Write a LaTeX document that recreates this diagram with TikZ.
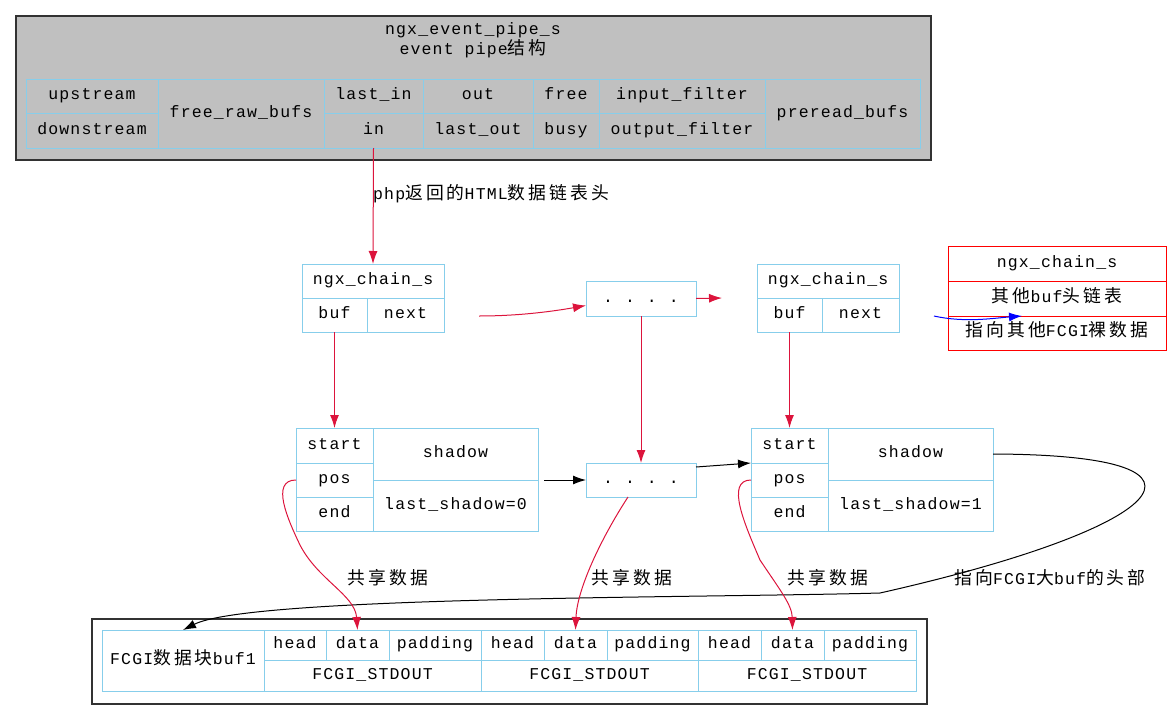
\documentclass[tikz,border=0pt]{standalone}
\usepackage{fontspec}
\setmainfont[LetterSpace=7]{Liberation Mono}
\newfontfamily\cjk[Scale=1.08,LetterSpace=17]{Noto Sans CJK SC}
\usetikzlibrary{arrows.meta}
\definecolor{crim}{RGB}{220,20,60}
\definecolor{sky}{RGB}{135,206,235}
\definecolor{pipegray}{RGB}{192,192,192}
\definecolor{frame}{RGB}{50,50,50}
\newcommand\cell[7]{%
  \node[#6, minimum width={#4pt-#2pt}, minimum height={#5pt-#3pt}, anchor=north west] (#1) at (#2,#3) {#7};}
\tikzset{
  txt/.style={inner sep=0pt, font=\fontsize{16.5}{19}\selectfont},
  cellbox/.style={draw=sky, line width=1pt, inner sep=0pt, outer sep=0pt, txt, text height=11pt, text depth=3.5pt},
  redcell/.style={draw=red, line width=1pt, inner sep=0pt, outer sep=0pt, txt, text height=11pt, text depth=3.5pt},
  frbox/.style={draw=frame, line width=1.3pt, inner sep=0pt, outer sep=0pt},
  tip/.style={-{Latex[length=13pt,width=9pt]}},
  redarr/.style={tip, draw=crim, line width=1pt},
  blkarr/.style={tip, draw=black, line width=1pt},
  bluearr/.style={tip, draw=blue, line width=1pt},
}
\begin{document}
\begin{tikzpicture}[x=1pt,y=-1pt]
\useasboundingbox (0,0) rectangle (1172,720);
% top pipe structure
\cell{pipe}{16}{16}{931}{160}{frbox, fill=pipegray}{}
\node[txt] (t1) at (473,30) {ngx\_event\_pipe\_s};
\node[txt] (t2) at (473,49) {event pipe{\cjk 结构}};
\cell{up}{26}{79}{158}{113}{cellbox}{upstream}
\cell{down}{26}{113}{158}{148}{cellbox}{downstream}
\cell{frb}{158}{79}{324}{148}{cellbox}{free\_raw\_bufs}
\cell{lastin}{324}{79}{423}{113}{cellbox}{last\_in}
\cell{in}{324}{113}{423}{148}{cellbox}{in}
\cell{out}{423}{79}{533}{113}{cellbox}{out}
\cell{lastout}{423}{113}{533}{148}{cellbox}{last\_out}
\cell{free}{533}{79}{599}{113}{cellbox}{free}
\cell{busy}{533}{113}{599}{148}{cellbox}{busy}
\cell{inf}{599}{79}{765}{113}{cellbox}{input\_filter}
\cell{outf}{599}{113}{765}{148}{cellbox}{output\_filter}
\cell{pre}{765}{79}{920}{148}{cellbox}{preread\_bufs}
% chain 1
\cell{c1h}{302}{264}{444}{298}{cellbox}{ngx\_chain\_s}
\cell{c1buf}{302}{298}{367}{332}{cellbox}{buf}
\cell{c1next}{367}{298}{444}{332}{cellbox}{next}
% dots
\cell{dots1}{586}{281}{696}{316}{cellbox}{.\hspace{12pt}.\hspace{12pt}.\hspace{12pt}.}
\cell{dots2}{586}{463}{696}{497}{cellbox}{.\hspace{12pt}.\hspace{12pt}.\hspace{12pt}.}
% chain 2
\cell{c2h}{757}{264}{899}{298}{cellbox}{ngx\_chain\_s}
\cell{c2buf}{757}{298}{822}{332}{cellbox}{buf}
\cell{c2next}{822}{298}{899}{332}{cellbox}{next}
% red chain
\cell{r1}{948}{246}{1166}{281}{redcell}{ngx\_chain\_s}
\cell{r2}{948}{281}{1166}{316}{redcell}{{\cjk 其他}buf{\cjk 头链表}}
\cell{r3}{948}{316}{1166}{350}{redcell}{{\cjk 指向其他}FCGI{\cjk 裸数据}}
% buf 1
\cell{b1start}{296}{428}{373}{463}{cellbox}{start}
\cell{b1pos}{296}{463}{373}{497}{cellbox}{pos}
\cell{b1end}{296}{497}{373}{531}{cellbox}{end}
\cell{b1sh}{373}{428}{538}{480}{cellbox}{shadow}
\cell{b1ls}{373}{480}{538}{531}{cellbox}{last\_shadow=0}
% buf 2
\cell{b2start}{751}{428}{828}{463}{cellbox}{start}
\cell{b2pos}{751}{463}{828}{497}{cellbox}{pos}
\cell{b2end}{751}{497}{828}{531}{cellbox}{end}
\cell{b2sh}{828}{428}{993}{480}{cellbox}{shadow}
\cell{b2ls}{828}{480}{993}{531}{cellbox}{last\_shadow=1}
% bottom FCGI block
\cell{fbox}{92}{619}{927}{704}{frbox, fill=white}{}
\cell{fcgi}{102}{630}{264}{691}{cellbox}{FCGI{\cjk 数据块}buf1}
\cell{h1}{264}{630}{326}{660}{cellbox}{head}
\cell{d1}{326}{630}{389}{660}{cellbox}{data}
\cell{p1}{389}{630}{481}{660}{cellbox}{padding}
\cell{s1}{264}{660}{481}{691}{cellbox}{FCGI\_STDOUT}
\cell{h2}{481}{630}{544}{660}{cellbox}{head}
\cell{d2}{544}{630}{607}{660}{cellbox}{data}
\cell{p2}{607}{630}{698}{660}{cellbox}{padding}
\cell{s2}{481}{660}{698}{691}{cellbox}{FCGI\_STDOUT}
\cell{h3}{698}{630}{761}{660}{cellbox}{head}
\cell{d3}{761}{630}{824}{660}{cellbox}{data}
\cell{p3}{824}{630}{916}{660}{cellbox}{padding}
\cell{s3}{698}{660}{916}{691}{cellbox}{FCGI\_STDOUT}
% labels
\node[txt, anchor=west] (lbl1) at (373,194) {php{\cjk 返回的}HTML{\cjk 数据链表头}};
\node[txt] (lbl2) at (388,578) {\cjk 共享数据};
\node[txt] (lbl3) at (632,578) {\cjk 共享数据};
\node[txt] (lbl4) at (828,578) {\cjk 共享数据};
\node[txt] (lbl5) at (1050,578) {{\cjk 指向}FCGI{\cjk 大}buf{\cjk 的头部}};
% free coordinates
\coordinate (c1n) at (479,316);
\coordinate (d1r) at (722,298);
\coordinate (bl) at (934,316);
\coordinate (bt) at (1022,316);
\coordinate (b1r) at (544,480);
% connectors
\draw[redarr] (in.south) -- (c1h.north);
\draw[redarr] (c1n) .. controls (520,316) and (555,311) .. ([yshift=-7pt]dots1.west);
\draw[redarr] (dots1.east) -- (d1r);
\draw[bluearr] (bl) .. controls (965,323) and (995,318) .. (bt);
\draw[redarr] (dots1.south) -- (dots2.north);
\draw[redarr] (c1buf.south) -- (b1start.north);
\draw[redarr] (c2buf.south) -- (b2start.north);
\draw[blkarr] (b1r) -- (dots2.west);
\draw[blkarr] ([yshift=-4pt]dots2.north east) -- (b2start.south west);
\draw[blkarr] (b2sh.east) .. controls (1250,455) and (1160,530) .. (880,593)
  .. controls (700,598) and (250,596) .. (fcgi.north);
\draw[redarr] (b1pos.west) .. controls (270,480) and (288,520) .. (300,545)
  .. controls (318,580) and (355,595) .. (d1.north);
\draw[redarr] ([xshift=-13pt]dots2.south) .. controls (600,540) and (577,590) .. (d2.north);
\draw[redarr] (b2pos.west) .. controls (725,480) and (745,525) .. (760,560)
  .. controls (780,590) and (792,605) .. (d3.north);
\end{tikzpicture}
\end{document}
